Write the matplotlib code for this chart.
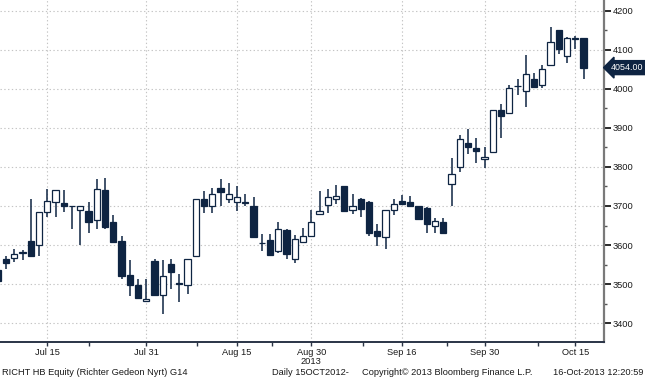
import matplotlib
matplotlib.use("Agg")
import matplotlib.pyplot as plt
from matplotlib.transforms import blended_transform_factory

dates = ["Jul 5", "Jul 8", "Jul 9", "Jul 10", "Jul 11", "Jul 12",
         "Jul 15", "Jul 16", "Jul 17", "Jul 18", "Jul 19",
         "Jul 22", "Jul 23", "Jul 24", "Jul 25", "Jul 26",
         "Jul 29", "Jul 30", "Jul 31", "Aug 1", "Aug 2",
         "Aug 5", "Aug 6", "Aug 7", "Aug 8", "Aug 9",
         "Aug 12", "Aug 13", "Aug 14", "Aug 15", "Aug 16",
         "Aug 21", "Aug 22", "Aug 23",
         "Aug 26", "Aug 27", "Aug 28", "Aug 29", "Aug 30",
         "Sep 2", "Sep 3", "Sep 4", "Sep 5", "Sep 6",
         "Sep 9", "Sep 10", "Sep 11", "Sep 12", "Sep 13",
         "Sep 16", "Sep 17", "Sep 18", "Sep 19", "Sep 20",
         "Sep 23", "Sep 24", "Sep 25", "Sep 26", "Sep 27",
         "Sep 30", "Oct 1", "Oct 2", "Oct 3", "Oct 4",
         "Oct 7", "Oct 8", "Oct 9", "Oct 10", "Oct 11",
         "Oct 14", "Oct 15", "Oct 16"]

opens = [3536, 3565, 3568, 3579, 3610, 3600,
         3685, 3710, 3708, 3701, 3690,
         3688, 3663, 3741, 3659, 3610,
         3524, 3497, 3458, 3558, 3471,
         3551, 3503, 3497, 3571, 3718,
         3700, 3747, 3719, 3710, 3709,
         3700, 3606, 3614,
         3586, 3639, 3565, 3609, 3623,
         3680, 3703, 3717, 3750, 3690,
         3718, 3709, 3636, 3620, 3690,
         3714, 3709, 3700, 3696, 3649,
         3659, 3757, 3800, 3860, 3849,
         3819, 3837, 3945, 3938, 4006,
         3995, 4026, 4009, 4060, 4149,
         4084, 4127, 4129]
highs = [3540, 3571, 3590, 3588, 3718, 3685,
         3743, 3741, 3741, 3701, 3700,
         3709, 3769, 3771, 3678, 3622,
         3563, 3512, 3514, 3565, 3563,
         3565, 3527, 3565, 3718, 3739,
         3747, 3769, 3758, 3752, 3731,
         3724, 3629, 3629,
         3660, 3641, 3627, 3643, 3690,
         3739, 3743, 3754, 3752, 3731,
         3720, 3712, 3654, 3689, 3719,
         3729, 3725, 3700, 3697, 3668,
         3670, 3824, 3881, 3896, 3874,
         3851, 3945, 3961, 4009, 4026,
         4086, 4039, 4061, 4159, 4151,
         4133, 4136, 4130]
lows = [3500, 3540, 3557, 3563, 3571, 3571,
        3671, 3671, 3684, 3641, 3601,
        3631, 3641, 3641, 3607, 3513,
        3469, 3464, 3457, 3473, 3423,
        3488, 3455, 3475, 3571, 3682,
        3682, 3701, 3708, 3688, 3701,
        3620, 3585, 3575,
        3580, 3564, 3553, 3608, 3623,
        3680, 3681, 3705, 3684, 3680,
        3671, 3623, 3597, 3590, 3677,
        3703, 3700, 3666, 3632, 3632,
        3632, 3700, 3787, 3832, 3809,
        3796, 3837, 3875, 3936, 3984,
        3952, 4002, 4003, 4060, 4088,
        4065, 4101, 4024]
closes = [3508, 3553, 3576, 3581, 3571, 3685,
          3714, 3741, 3701, 3700, 3700,
          3659, 3744, 3646, 3607, 3521,
          3497, 3464, 3463, 3473, 3522,
          3530, 3501, 3565, 3718, 3700,
          3731, 3735, 3731, 3724, 3707,
          3620, 3605, 3575,
          3641, 3578, 3616, 3622, 3660,
          3686, 3724, 3725, 3686, 3701,
          3692, 3631, 3622, 3689, 3705,
          3704, 3700, 3666, 3653, 3662,
          3632, 3781, 3871, 3851, 3841,
          3826, 3945, 3931, 4001, 4008,
          4038, 4005, 4050, 4120, 4101,
          4131, 4129, 4054]

major_labels = ["Jul 15", "Jul 31", "Aug 15", "Aug 30", "Sep 16", "Sep 30", "Oct 15"]
minor_tick_pos = [11.1, 24.1, 33.2, 44.3, 54.4, 65.5]
y_ticks = [3400, 3500, 3600, 3700, 3800, 3900, 4000, 4100, 4200]
last_price = "4054.00"

NAVY = "#0e2442"
GRID = "#c4c4c4"
FONT = "Liberation Sans"
FS = 6.7
TXT = "#1a1a1a"

fig = plt.figure(figsize=(6.45, 3.80), dpi=100)
ax = fig.add_axes([0.0, 0.099, 0.9364, 0.901])

xs = list(range(len(dates)))
for x, o, h, l, c in zip(xs, opens, highs, lows, closes):
    ax.vlines(x, l, h, color=NAVY, lw=1.1, zorder=2)
    down = c < o
    bottom = min(o, c)
    height = max(abs(c - o), 1.0)
    ax.bar(x, height, bottom=bottom, width=0.74,
           facecolor=NAVY if down else "white",
           edgecolor=NAVY, linewidth=0.9, zorder=3)

major_pos = [dates.index(d) for d in major_labels]
ax.set_xticks(major_pos)
ax.set_xticklabels(major_labels)
ax.set_xticks(minor_tick_pos, minor=True)
ax.set_xlim(0.27, 73.48)
ax.set_ylim(3351, 4227)

ax.yaxis.tick_right()
ax.set_yticks(y_ticks)
ax.set_yticks([v + 50 for v in y_ticks[:-1]], minor=True)

ax.grid(True, which="major", linestyle=(0, (1.2, 2.2)), color=GRID, lw=0.8, zorder=0)

for s in ["left", "top"]:
    ax.spines[s].set_visible(False)
ax.spines["right"].set_color("#7a7a7a")
ax.spines["right"].set_linewidth(1.6)
ax.spines["bottom"].set_color("#2a3446")
ax.spines["bottom"].set_linewidth(1.4)

ax.tick_params(axis="y", which="major", direction="out", length=5, width=1.4,
               color="#2a2a2a", labelsize=FS, labelcolor=TXT, pad=1)
ax.tick_params(axis="y", which="minor", direction="out", length=2, width=1.0,
               color="#555555")
ax.tick_params(axis="x", which="both", direction="out", length=3, width=1.0,
               color="#2a3446", labelsize=FS, labelcolor=TXT, pad=1)
for lab in ax.get_xticklabels() + ax.get_yticklabels():
    lab.set_fontfamily(FONT)

# last price tag
trans = blended_transform_factory(ax.transAxes, ax.transData)
ax.text(1.012, closes[-1], last_price, transform=trans, ha="left", va="center",
        fontsize=6.4, color="white", family=FONT, zorder=10,
        bbox=dict(boxstyle="larrow,pad=0.28", facecolor=NAVY, edgecolor=NAVY),
        clip_on=False)

# year label under Aug 30
fig.text(ax.transData.transform((major_pos[3], 0))[0] / fig.bbox.width, 0.05,
         "2013", ha="center", va="center", fontsize=FS, color=TXT,
         family=FONT)

# footer
fy = 0.019
fig.text(0.003, fy, "RICHT HB Equity (Richter Gedeon Nyrt) G14", ha="left",
         va="center", fontsize=FS, color=TXT, family=FONT)
fig.text(0.422, fy, "Daily 15OCT2012-", ha="left", va="center", fontsize=FS,
         color=TXT, family=FONT)
fig.text(0.561, fy, "Copyright\u00a9 2013 Bloomberg Finance L.P.", ha="left",
         va="center", fontsize=FS, color=TXT, family=FONT)
fig.text(0.997, fy, "16-Oct-2013 12:20:59", ha="right", va="center",
         fontsize=FS, color=TXT, family=FONT)

fig.savefig("out.png", dpi=100)
